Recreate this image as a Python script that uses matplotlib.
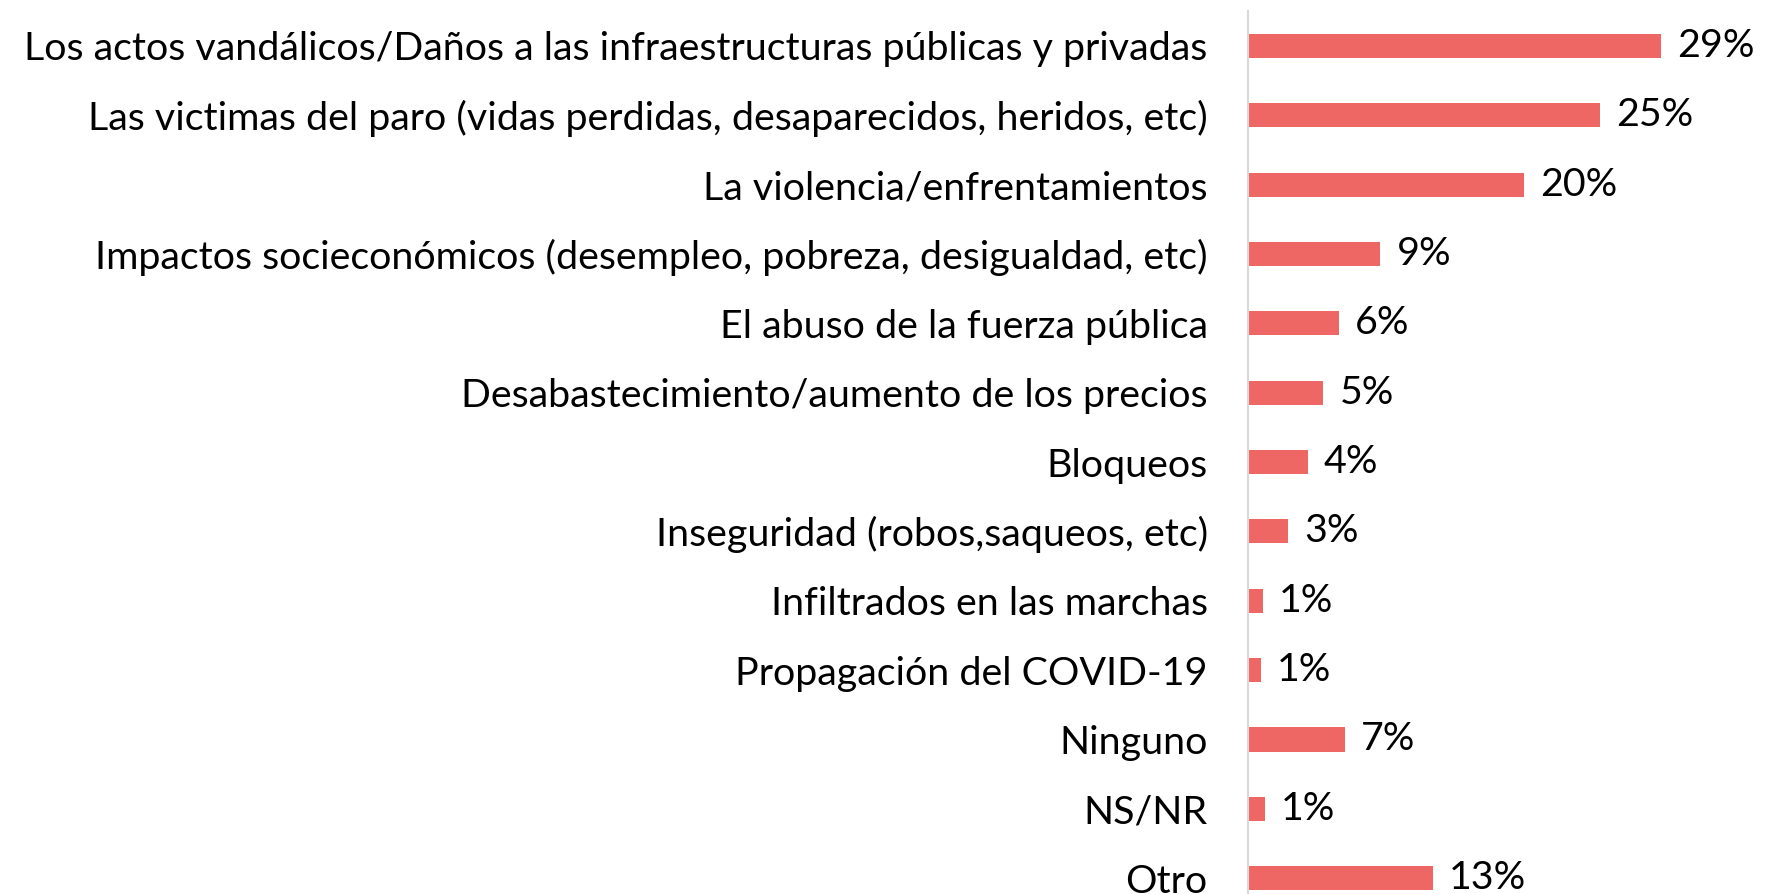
import matplotlib
matplotlib.use("Agg")
import matplotlib.pyplot as plt
from matplotlib import font_manager

categories = [
    "Los actos vandálicos/Daños a las infraestructuras públicas y privadas",
    "Las victimas del paro (vidas perdidas, desaparecidos, heridos, etc)",
    "La violencia/enfrentamientos",
    "Impactos socieconómicos (desempleo, pobreza, desigualdad, etc)",
    "El abuso de la fuerza pública",
    "Desabastecimiento/aumento de los precios",
    "Bloqueos",
    "Inseguridad (robos,saqueos, etc)",
    "Infiltrados en las marchas",
    "Propagación del COVID-19",
    "Ninguno",
    "NS/NR",
    "Otro",
]
values = [29.0, 24.7, 19.4, 9.3, 6.4, 5.3, 4.2, 2.8, 1.05, 0.9, 6.8, 1.2, 13.0]
value_labels = ["29%", "25%", "20%", "9%", "6%", "5%", "4%", "3%", "1%", "1%", "7%", "1%", "13%"]

names = {f.name for f in font_manager.fontManager.ttflist}
font = "Liberation Sans Narrow" if "Liberation Sans Narrow" in names else "Lato"
plt.rcParams["font.family"] = [font, "DejaVu Sans"]

W, H = 1771, 894
fig = plt.figure(figsize=(W / 100, H / 100), dpi=100)
left, right = 1248, W
top, bottom = 11.3, H
ax = fig.add_axes([left / W, 1 - bottom / H, (right - left) / W, (bottom - top) / H])

pos = list(range(len(categories)))
ax.barh(pos, values, height=0.35, color="#EE6764")
ax.set_ylim(12.23, -0.5)
ax.set_xlim(0, (right - left) / 14.24)

ax.set_yticks(pos)
ax.set_yticklabels(categories, fontsize=28.4)
ax.tick_params(axis="y", length=0, pad=29)
ax.set_xticks([])
for s in ["top", "right", "bottom"]:
    ax.spines[s].set_visible(False)
ax.spines["left"].set_color("#D9D9D9")
ax.spines["left"].set_linewidth(1.5)

for p, v, lab in zip(pos, values, value_labels):
    ax.annotate(lab, (v, p), xytext=(16, 0), textcoords="offset pixels",
                va="center", ha="left", fontsize=28.4)

fig.savefig("out.png", dpi=100)
